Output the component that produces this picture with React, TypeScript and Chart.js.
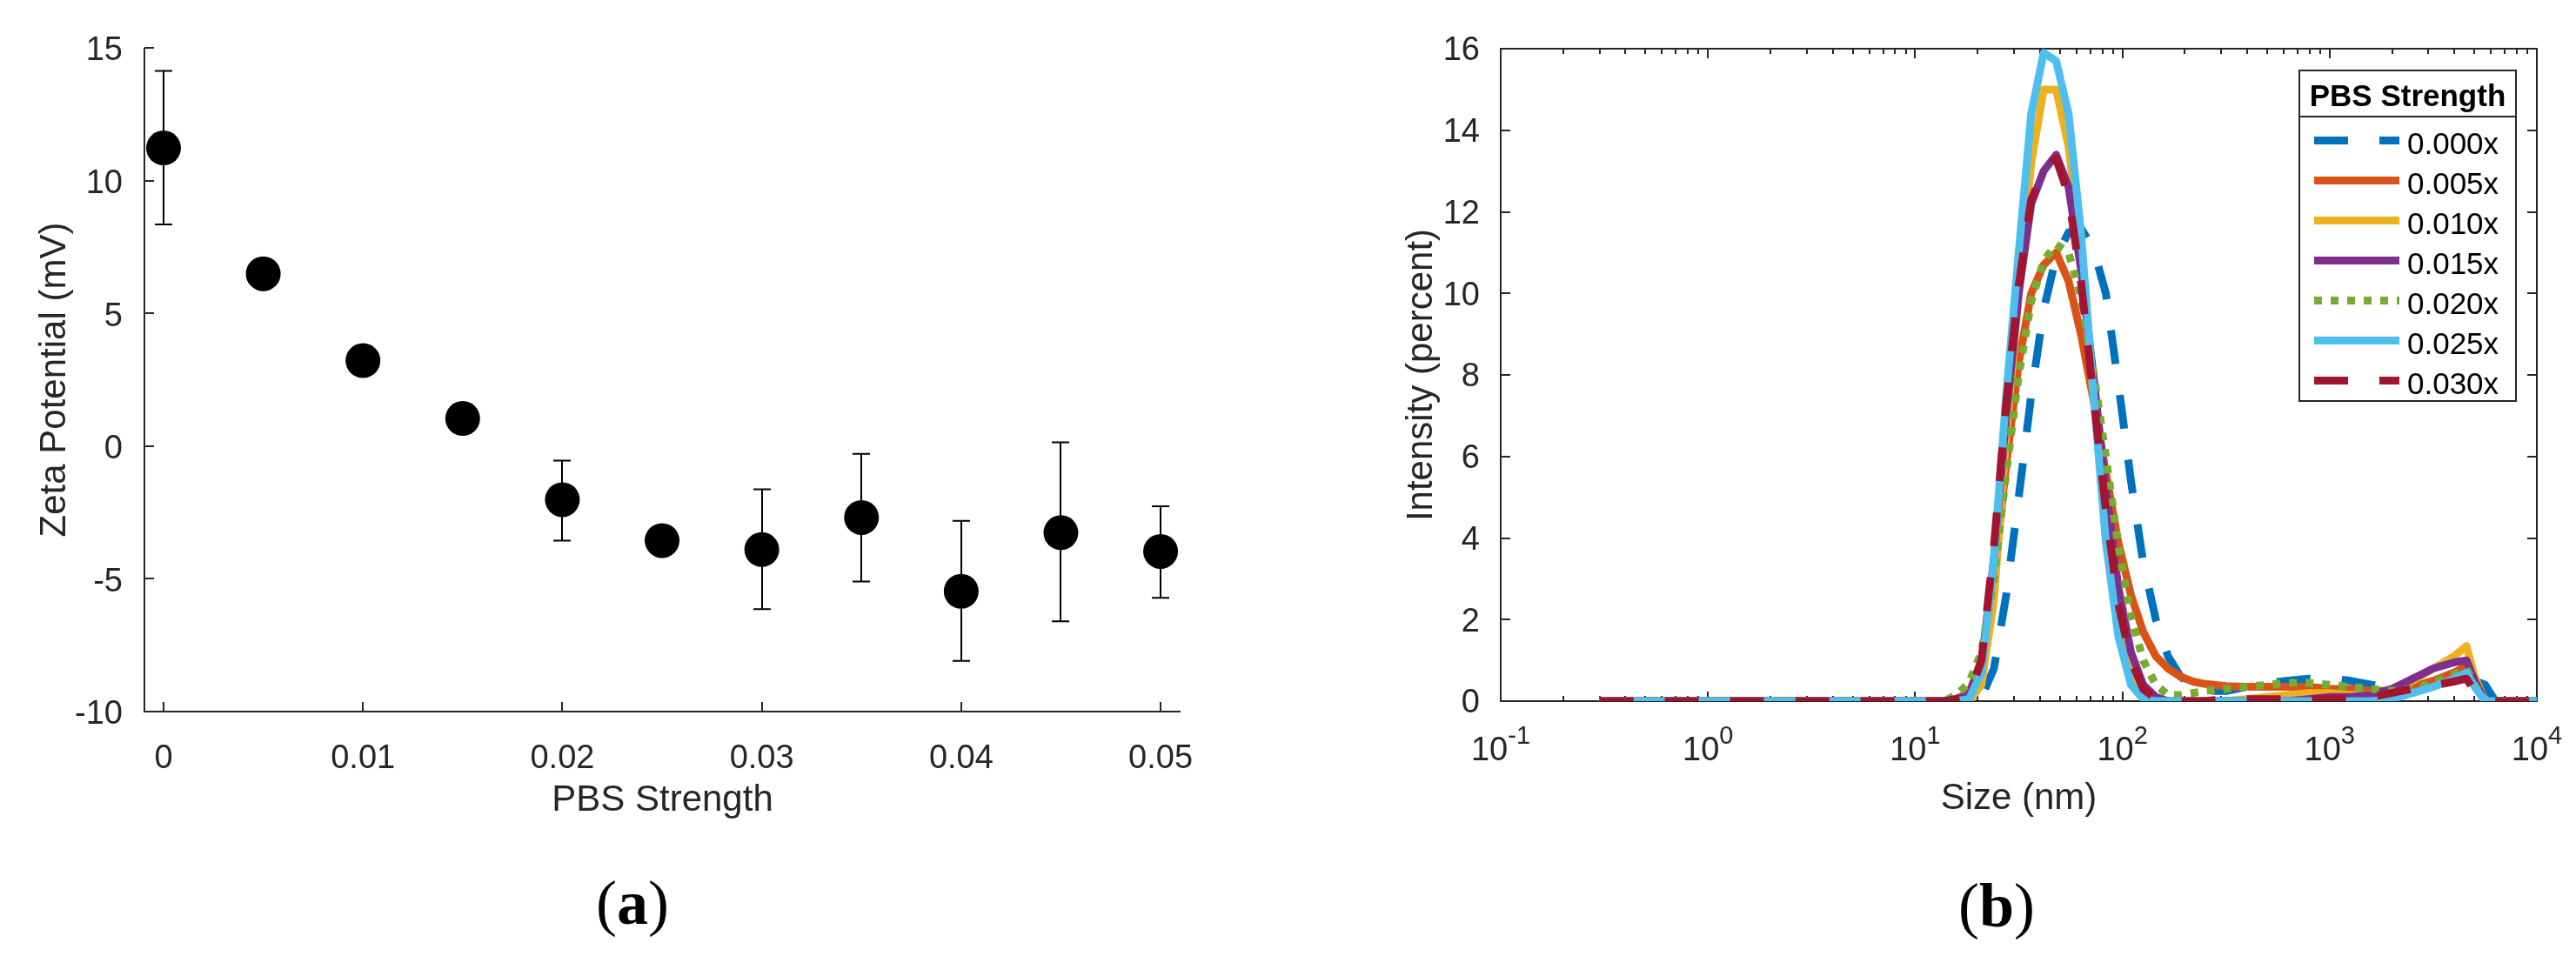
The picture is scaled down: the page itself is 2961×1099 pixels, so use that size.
import React, { useEffect, useRef } from 'react';
import { Chart, registerables } from 'chart.js';

Chart.register(...registerables);

const FONT = "'Liberation Sans', Arial, Helvetica, sans-serif";
const SERIF = "'Liberation Serif', 'DejaVu Serif', serif";
const AXIS_COLOR = '#262626';
const MAJOR_TICK = 11;
const MINOR_TICK = 6;

// ---------- Panel (a): zeta potential ----------
const pbsStrength = [0, 0.005, 0.01, 0.015, 0.02, 0.025, 0.03, 0.035, 0.04, 0.045, 0.05];
const zetaPotential = [11.23, 6.49, 3.22, 1.04, -2.02, -3.56, -3.9, -2.69, -5.47, -3.26, -3.97];
const zetaErrLow = [8.35, null, null, null, -3.56, null, -6.14, -5.1, -8.09, -6.6, -5.72];
const zetaErrHigh = [14.13, null, null, null, -0.55, null, -1.63, -0.29, -2.82, 0.14, -2.27];
const zetaXTicks = [0, 0.01, 0.02, 0.03, 0.04, 0.05];
const zetaYTicks = [-10, -5, 0, 5, 10, 15];

// ---------- Panel (b): size distributions ----------
const sizeNm = [0.3, 1, 3.16, 10, 13.8, 15.8, 18.2, 20.9, 24.0, 27.5, 31.6, 36.3, 41.7, 47.9, 55.0, 63.1, 72.4, 83.2, 95.5, 110, 126, 145, 166, 191, 219, 251, 316, 398, 501, 631, 794, 1000, 1259, 1585, 1995, 2512, 3162, 3981, 4571, 5012, 5623, 6310, 7079, 10000];
const intensity000 = [0, 0, 0, 0, 0, 0, 0, 0.1, 0.8, 2.6, 5.0, 7.5, 9.6, 10.9, 11.5, 11.6, 11.1, 10.0, 7.8, 5.4, 3.4, 2.0, 1.1, 0.6, 0.35, 0.25, 0.25, 0.35, 0.45, 0.5, 0.55, 0.55, 0.5, 0.4, 0.35, 0.35, 0.4, 0.45, 0.5, 0.5, 0.4, 0, 0, 0];
const intensity005 = [0, 0, 0, 0, 0, 0.05, 0.2, 1.0, 3.0, 5.8, 8.3, 10.0, 10.7, 11.0, 10.3, 9.0, 7.4, 5.6, 3.9, 2.6, 1.7, 1.1, 0.8, 0.6, 0.48, 0.42, 0.37, 0.35, 0.35, 0.35, 0.35, 0.3, 0.3, 0.25, 0.25, 0.35, 0.5, 0.7, 0.85, 0.5, 0, 0, 0, 0];
const intensity010 = [0, 0, 0, 0, 0, 0, 0, 0.4, 2.5, 6.5, 10.0, 13.2, 15.0, 15.0, 13.6, 10.9, 7.5, 4.4, 2.1, 0.8, 0.25, 0.05, 0, 0, 0, 0, 0, 0.05, 0.1, 0.15, 0.2, 0.2, 0.15, 0.15, 0.25, 0.5, 0.8, 1.1, 1.35, 0.6, 0, 0, 0, 0];
const intensity015 = [0, 0, 0, 0, 0, 0.05, 0.15, 0.9, 3.5, 7.0, 10.0, 12.2, 13.0, 13.4, 12.6, 10.6, 8.0, 5.2, 2.8, 1.2, 0.4, 0.1, 0, 0, 0, 0, 0, 0, 0, 0, 0.05, 0.1, 0.1, 0.15, 0.3, 0.55, 0.8, 0.95, 1.0, 0.5, 0, 0, 0, 0];
const intensity020 = [0, 0, 0, 0, 0, 0.15, 0.45, 1.2, 3.0, 5.6, 8.0, 9.8, 10.8, 11.2, 11.0, 9.9, 8.1, 6.0, 3.8, 2.1, 1.0, 0.4, 0.15, 0.15, 0.2, 0.25, 0.3, 0.35, 0.4, 0.45, 0.45, 0.4, 0.35, 0.3, 0.25, 0.3, 0.45, 0.65, 0.8, 0.4, 0, 0, 0, 0];
const intensity025 = [0, 0, 0, 0, 0, 0, 0.05, 0.7, 3.5, 7.5, 11.0, 14.4, 15.9, 15.7, 14.4, 11.5, 7.6, 3.9, 1.6, 0.4, 0.05, 0, 0, 0, 0, 0, 0, 0, 0, 0, 0, 0, 0, 0, 0.05, 0.2, 0.35, 0.55, 0.7, 0.35, 0, 0, 0, 0];
const intensity030 = [0, 0, 0, 0, 0, 0.05, 0.15, 1.0, 3.8, 7.3, 10.2, 12.3, 13.0, 13.3, 12.4, 10.3, 7.5, 4.7, 2.4, 1.0, 0.3, 0.05, 0, 0, 0, 0, 0.05, 0.05, 0.05, 0.05, 0.05, 0.05, 0.05, 0.1, 0.2, 0.3, 0.38, 0.48, 0.55, 0.25, 0, 0, 0, 0];

const seriesLabels = ['0.000x', '0.005x', '0.010x', '0.015x', '0.020x', '0.025x', '0.030x'];
const seriesValues = [intensity000, intensity005, intensity010, intensity015, intensity020, intensity025, intensity030];
const seriesColors = ['#0072BD', '#D95319', '#EDB120', '#7E2F8E', '#77AC30', '#4DBEEE', '#A2142F'];
const seriesDash = [[39, 36], [], [], [], [9, 10], [], [39, 36]];
const sizeXTicks = [0.1, 1, 10, 100, 1000, 10000];
const sizeYTicks = [0, 2, 4, 6, 8, 10, 12, 14, 16];
const legendTitle = 'PBS Strength';

const tickFont = { family: FONT, size: 38 };
const titleFont = { family: FONT, size: 42 };

// ---------- plugins ----------
const zetaAxesPlugin = {
  id: 'zetaAxes',
  beforeDatasetsDraw(chart: any) {
    const { ctx, chartArea: a, scales } = chart;
    const xs = scales.x;
    const ys = scales.y;
    ctx.save();
    ctx.strokeStyle = AXIS_COLOR;
    ctx.lineWidth = 2;
    ctx.beginPath();
    ctx.moveTo(a.left, a.top);
    ctx.lineTo(a.left, a.bottom);
    ctx.lineTo(a.right, a.bottom);
    for (const t of ys.ticks) {
      const y = Math.round(ys.getPixelForValue(t.value));
      ctx.moveTo(a.left, y);
      ctx.lineTo(a.left + MAJOR_TICK, y);
    }
    for (const t of xs.ticks) {
      const x = Math.round(xs.getPixelForValue(t.value));
      ctx.moveTo(x, a.bottom);
      ctx.lineTo(x, a.bottom - MAJOR_TICK);
    }
    ctx.stroke();
    // error bars
    ctx.strokeStyle = '#000';
    ctx.lineWidth = 2;
    ctx.beginPath();
    for (let i = 0; i < pbsStrength.length; i++) {
      const lo = zetaErrLow[i];
      const hi = zetaErrHigh[i];
      if (lo === null || hi === null) continue;
      const x = Math.round(xs.getPixelForValue(pbsStrength[i]));
      const y1 = ys.getPixelForValue(lo);
      const y2 = ys.getPixelForValue(hi);
      ctx.moveTo(x, y1);
      ctx.lineTo(x, y2);
      ctx.moveTo(x - 10, y1);
      ctx.lineTo(x + 10, y1);
      ctx.moveTo(x - 10, y2);
      ctx.lineTo(x + 10, y2);
    }
    ctx.stroke();
    ctx.restore();
  },
};

const sizeAxesPlugin = {
  id: 'sizeAxes',
  beforeDatasetsDraw(chart: any) {
    const { ctx, chartArea: a, scales } = chart;
    const xs = scales.x;
    const ys = scales.y;
    ctx.save();
    ctx.strokeStyle = AXIS_COLOR;
    ctx.lineWidth = 2;
    ctx.beginPath();
    ctx.rect(a.left, a.top, a.right - a.left, a.bottom - a.top);
    for (const t of ys.ticks) {
      const y = Math.round(ys.getPixelForValue(t.value));
      ctx.moveTo(a.left, y);
      ctx.lineTo(a.left + MAJOR_TICK, y);
      ctx.moveTo(a.right, y);
      ctx.lineTo(a.right - MAJOR_TICK, y);
    }
    for (const t of xs.ticks) {
      const x = Math.round(xs.getPixelForValue(t.value));
      ctx.moveTo(x, a.bottom);
      ctx.lineTo(x, a.bottom - MAJOR_TICK);
      ctx.moveTo(x, a.top);
      ctx.lineTo(x, a.top + MAJOR_TICK);
      for (let m = 2; m <= 9; m++) {
        const v = t.value * m;
        if (v >= xs.max) break;
        const xm = Math.round(xs.getPixelForValue(v));
        ctx.moveTo(xm, a.bottom);
        ctx.lineTo(xm, a.bottom - MINOR_TICK);
        ctx.moveTo(xm, a.top);
        ctx.lineTo(xm, a.top + MINOR_TICK);
      }
    }
    ctx.stroke();
    // decade labels with superscript exponents
    ctx.fillStyle = AXIS_COLOR;
    ctx.textBaseline = 'alphabetic';
    ctx.textAlign = 'left';
    for (const t of xs.ticks) {
      const exp = String(Math.round(Math.log10(t.value)));
      ctx.font = `38px ${FONT}`;
      const wb = ctx.measureText('10').width;
      ctx.font = `29px ${FONT}`;
      const we = ctx.measureText(exp).width;
      const x = xs.getPixelForValue(t.value);
      const x0 = x - (wb + we) / 2;
      ctx.font = `38px ${FONT}`;
      ctx.fillText('10', x0, a.bottom + 68);
      ctx.font = `29px ${FONT}`;
      ctx.fillText(exp, x0 + wb, a.bottom + 49);
    }
    ctx.restore();
  },
  afterDraw(chart: any) {
    const { ctx, chartArea: a } = chart;
    const boxW = 249;
    const boxH = 380;
    const left = a.right - 24 - boxW;
    const top = a.top + 25;
    ctx.save();
    ctx.fillStyle = '#fff';
    ctx.fillRect(left, top, boxW, boxH);
    ctx.strokeStyle = AXIS_COLOR;
    ctx.lineWidth = 2;
    ctx.strokeRect(left, top, boxW, boxH);
    ctx.beginPath();
    ctx.moveTo(left, top + 53);
    ctx.lineTo(left + boxW, top + 53);
    ctx.stroke();
    ctx.fillStyle = '#000';
    ctx.textAlign = 'center';
    ctx.textBaseline = 'alphabetic';
    ctx.font = `bold 35px ${FONT}`;
    ctx.fillText(legendTitle, left + boxW / 2, top + 41);
    ctx.font = `35px ${FONT}`;
    ctx.textAlign = 'left';
    chart.data.datasets.forEach((ds: any, i: number) => {
      const y = top + 80.5 + i * 46;
      ctx.save();
      ctx.strokeStyle = ds.borderColor;
      ctx.lineWidth = ds.borderWidth;
      ctx.lineCap = 'butt';
      ctx.setLineDash(ds.borderDash || []);
      ctx.beginPath();
      ctx.moveTo(left + 17, y);
      ctx.lineTo(left + 115, y);
      ctx.stroke();
      ctx.restore();
      ctx.fillText(ds.label, left + 124, y + 15.5);
    });
    ctx.restore();
  },
};

function ZetaChart() {
  const ref = useRef<HTMLCanvasElement | null>(null);
  useEffect(() => {
    if (!ref.current) return;
    const chart = new Chart(ref.current, {
      type: 'scatter',
      data: {
        datasets: [
          {
            label: 'Zeta Potential',
            data: pbsStrength.map((x, i) => ({ x, y: zetaPotential[i] })),
            backgroundColor: '#000',
            borderColor: '#000',
            borderWidth: 0,
            pointRadius: 20,
            pointHoverRadius: 20,
          },
        ],
      },
      options: {
        animation: false,
        responsive: false,
        devicePixelRatio: 1,
        layout: { padding: { top: 55, right: 123, left: 0, bottom: 0 } },
        plugins: { legend: { display: false }, tooltip: { enabled: false } },
        scales: {
          x: {
            type: 'linear',
            min: -0.00096,
            max: 0.051,
            afterBuildTicks: (s: any) => {
              s.ticks = zetaXTicks.map((v) => ({ value: v }));
            },
            afterFit: (s: any) => {
              s.height = 281;
            },
            grid: { display: false },
            border: { display: false },
            ticks: {
              font: tickFont,
              color: AXIS_COLOR,
              padding: 24,
              maxRotation: 0,
              minRotation: 0,
              autoSkip: false,
              callback: (v: any) => (v === 0 ? '0' : Number(v).toFixed(2)),
            },
            title: {
              display: true,
              text: 'PBS Strength',
              font: titleFont,
              color: AXIS_COLOR,
              padding: { top: 0, bottom: 153 },
            },
          },
          y: {
            type: 'linear',
            min: -10,
            max: 15,
            afterBuildTicks: (s: any) => {
              s.ticks = zetaYTicks.map((v) => ({ value: v }));
            },
            afterFit: (s: any) => {
              s.width = 166;
            },
            grid: { display: false },
            border: { display: false },
            ticks: {
              font: tickFont,
              color: AXIS_COLOR,
              padding: 17,
              labelOffset: 4,
              autoSkip: false,
              callback: (v: any) => String(v),
            },
            title: {
              display: true,
              text: 'Zeta Potential (mV)',
              font: titleFont,
              color: AXIS_COLOR,
              padding: { top: 38, bottom: 0 },
            },
          },
        },
      },
      plugins: [zetaAxesPlugin],
    } as any);
    return () => chart.destroy();
  }, []);
  return <canvas ref={ref} width={1480} height={1099} style={{ position: 'absolute', left: 0, top: 0 }} />;
}

function SizeChart() {
  const ref = useRef<HTMLCanvasElement | null>(null);
  useEffect(() => {
    if (!ref.current) return;
    const datasets = seriesLabels.map((label, i) => ({
      label,
      data: sizeNm.map((x, j) => ({ x, y: seriesValues[i][j] })),
      borderColor: seriesColors[i],
      backgroundColor: seriesColors[i],
      borderWidth: 9,
      borderDash: seriesDash[i],
      borderCapStyle: 'butt',
      borderJoinStyle: 'round',
      pointRadius: 0,
      pointHoverRadius: 0,
      tension: 0,
      fill: false,
      showLine: true,
      order: seriesLabels.length - 1 - i,
    }));
    const chart = new Chart(ref.current, {
      type: 'line',
      data: { datasets },
      options: {
        animation: false,
        responsive: false,
        devicePixelRatio: 1,
        layout: { padding: { top: 56, right: 45, left: 0, bottom: 0 } },
        plugins: { legend: { display: false }, tooltip: { enabled: false } },
        scales: {
          x: {
            type: 'logarithmic',
            min: 0.1,
            max: 10000,
            afterBuildTicks: (s: any) => {
              s.ticks = sizeXTicks.map((v) => ({ value: v }));
            },
            afterFit: (s: any) => {
              s.height = 293;
            },
            grid: { display: false },
            border: { display: false },
            ticks: { display: false },
            title: {
              display: true,
              text: 'Size (nm)',
              font: titleFont,
              color: AXIS_COLOR,
              padding: { top: 0, bottom: 155 },
            },
          },
          y: {
            type: 'linear',
            min: 0,
            max: 16,
            afterBuildTicks: (s: any) => {
              s.ticks = sizeYTicks.map((v) => ({ value: v }));
            },
            afterFit: (s: any) => {
              s.width = 245;
            },
            grid: { display: false },
            border: { display: false },
            ticks: {
              font: tickFont,
              color: AXIS_COLOR,
              padding: 16,
              labelOffset: 3,
              autoSkip: false,
              callback: (v: any) => String(v),
            },
            title: {
              display: true,
              text: 'Intensity (percent)',
              font: titleFont,
              color: AXIS_COLOR,
              padding: { top: 129, bottom: 0 },
            },
          },
        },
      },
      plugins: [sizeAxesPlugin],
    } as any);
    return () => chart.destroy();
  }, []);
  return <canvas ref={ref} width={1481} height={1099} style={{ position: 'absolute', left: 1480, top: 0 }} />;
}

function PanelLabel({ letter, cx, cy }: { letter: string; cx: number; cy: number }) {
  const size = 72;
  return (
    <div
      style={{
        position: 'absolute',
        left: cx,
        top: cy - 0.5875 * size,
        transform: 'translateX(-50%)',
        fontFamily: SERIF,
        fontSize: size,
        lineHeight: 1,
        whiteSpace: 'nowrap',
        color: '#000',
      }}
    >
      (<span style={{ fontWeight: 'bold' }}>{letter}</span>)
    </div>
  );
}

export default function App() {
  return (
    <div style={{ position: 'absolute', left: 0, top: 0, width: 2961, height: 1099, background: '#fff', overflow: 'hidden' }}>
      <ZetaChart />
      <SizeChart />
      <PanelLabel letter="a" cx={727} cy={1044} />
      <PanelLabel letter="b" cx={2295} cy={1047} />
    </div>
  );
}
